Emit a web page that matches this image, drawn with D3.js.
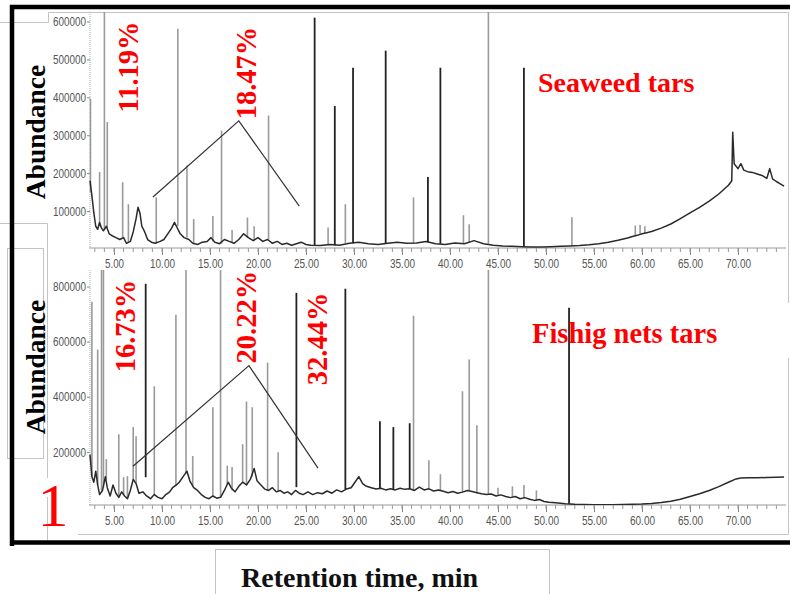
<!DOCTYPE html>
<html>
<head>
<meta charset="utf-8">
<script src="https://cdn.jsdelivr.net/npm/d3@7"></script>
<style>
  body { margin: 0; background: #fff; }
  svg { display: block; }
</style>
</head>
<body>
<svg id="chart" width="790" height="594"></svg>
<script>
// --- data ---
const xMajorTicks = [5, 10, 15, 20, 25, 30, 35, 40, 45, 50, 55, 60, 65, 70];
const xMinorTicks = d3.range(3, 75, 1);

const seaweedYTicks = [100000, 200000, 300000, 400000, 500000, 600000];
const fishYTicks = [200000, 400000, 600000, 800000];

// baseline trace [time, abundance]
const seaweedTrace = [
  [2.5, 180000], [2.7, 140000], [2.9, 95000], [3.1, 60000], [3.3, 52000], [3.5, 70000],
  [3.7, 55000], [3.9, 48000], [4.2, 60000], [4.5, 40000], [4.8, 35000], [5.2, 30000],
  [5.6, 25000], [6.0, 30000], [6.3, 15000], [6.7, 20000], [7.0, 45000], [7.3, 80000],
  [7.5, 110000], [7.7, 95000], [7.9, 60000], [8.2, 45000], [8.5, 25000], [8.9, 18000],
  [9.3, 15000], [9.8, 20000], [10.2, 25000], [10.6, 40000], [11.0, 55000], [11.3, 70000],
  [11.5, 60000], [11.9, 40000], [12.3, 30000], [12.8, 25000], [13.2, 15000], [13.7, 12000],
  [14.2, 18000], [14.7, 20000], [15.1, 30000], [15.5, 18000], [16.0, 14000], [16.5, 25000],
  [17.0, 20000], [17.5, 15000], [18.0, 25000], [18.5, 40000], [19.0, 30000], [19.5, 22000],
  [20.0, 30000], [20.5, 20000], [21.0, 25000], [21.5, 15000], [22.0, 20000], [22.5, 12000],
  [23.0, 15000], [23.5, 10000], [24.0, 14000], [24.5, 18000], [25.0, 12000], [25.5, 10000],
  [26.5, 9000], [27.5, 12000], [28.5, 10000], [29.5, 15000], [30.5, 18000], [31.5, 14000],
  [32.5, 12000], [33.5, 15000], [34.5, 18000], [35.5, 15000], [36.5, 16000], [37.5, 20000],
  [38.5, 14000], [39.5, 12000], [40.5, 16000], [41.5, 14000], [42.5, 22000], [43.5, 14000],
  [44.5, 10000], [45.5, 8000], [46.5, 7000], [47.5, 6000], [48.5, 5000], [49.5, 5000],
  [50.5, 6000], [51.5, 7000], [52.5, 8000], [53.5, 9000], [54.5, 11000], [55.5, 14000],
  [56.5, 18000], [57.5, 23000], [58.5, 29000], [59.0, 33000], [59.5, 36000], [60.0, 40000],
  [60.5, 43000], [61.0, 46000], [62.0, 55000], [63.0, 66000], [64.0, 80000], [65.0, 95000],
  [66.0, 110000], [67.0, 126000], [68.0, 145000], [69.0, 168000], [69.35, 180000],
  [69.45, 308000], [69.6, 225000], [70.0, 212000], [70.3, 225000], [70.6, 208000],
  [71.0, 204000], [71.5, 202000], [72.0, 198000], [72.5, 194000], [73.0, 186000],
  [73.3, 212000], [73.6, 185000], [74.0, 178000], [74.4, 172000], [74.8, 166000]
];

// peaks [time, base, top, kind]  k = marked (black), g = grey
const seaweedPeaks = [
  [2.55, 150000, 396000, 'g'], [3.5, 60000, 203000, 'g'], [4.0, 50000, 700000, 'g'],
  [4.3, 55000, 335000, 'g'], [5.9, 28000, 176000, 'g'], [6.5, 18000, 118000, 'g'],
  [9.4, 15000, 136000, 'g'], [11.65, 60000, 581000, 'g'], [12.6, 30000, 220000, 'g'],
  [13.3, 15000, 79000, 'g'], [15.3, 20000, 87000, 'g'], [16.2, 14000, 312000, 'g'],
  [17.3, 18000, 50000, 'g'], [18.9, 30000, 83000, 'g'], [19.6, 22000, 60000, 'g'],
  [21.1, 25000, 352000, 'g'], [25.9, 10000, 610000, 'k'], [27.3, 10000, 57000, 'g'],
  [28.0, 10000, 377000, 'k'], [29.1, 15000, 118000, 'g'], [29.9, 15000, 478000, 'k'],
  [33.3, 14000, 523000, 'k'], [36.2, 15000, 136000, 'g'], [37.7, 18000, 190000, 'k'],
  [39.0, 14000, 478000, 'k'], [41.4, 14000, 89000, 'g'], [42.0, 18000, 65000, 'g'],
  [44.0, 14000, 700000, 'g'], [47.7, 6000, 478000, 'k'], [52.7, 8000, 84000, 'g'],
  [59.3, 36000, 62000, 'g'], [59.8, 40000, 63000, 'g'], [60.3, 42000, 60000, 'g']
];

const fishTrace = [
  [2.5, 190000], [2.7, 110000], [2.9, 90000], [3.1, 130000], [3.3, 80000], [3.5, 45000],
  [3.8, 60000], [4.1, 110000], [4.3, 70000], [4.6, 40000], [4.9, 80000], [5.2, 50000],
  [5.5, 35000], [5.8, 55000], [6.1, 40000], [6.4, 30000], [6.7, 60000], [7.0, 100000],
  [7.3, 85000], [7.6, 50000], [8.0, 55000], [8.4, 40000], [8.8, 30000], [9.2, 45000],
  [9.6, 35000], [10.0, 30000], [10.4, 45000], [10.8, 55000], [11.1, 70000], [11.5, 80000],
  [11.8, 90000], [12.2, 110000], [12.6, 130000], [12.9, 95000], [13.3, 70000], [13.7, 60000],
  [14.1, 45000], [14.5, 35000], [14.9, 30000], [15.3, 40000], [15.7, 32000], [16.1, 35000],
  [16.5, 60000], [16.9, 90000], [17.2, 70000], [17.6, 55000], [18.0, 75000], [18.4, 90000],
  [18.8, 80000], [19.2, 100000], [19.6, 140000], [19.9, 95000], [20.3, 80000], [20.7, 65000],
  [21.1, 60000], [21.5, 70000], [21.9, 55000], [22.3, 60000], [22.7, 50000], [23.1, 55000],
  [23.5, 45000], [23.9, 60000], [24.3, 50000], [24.7, 45000], [25.2, 55000], [25.7, 45000],
  [26.2, 52000], [26.7, 48000], [27.2, 58000], [27.7, 50000], [28.2, 62000], [28.7, 55000],
  [29.2, 65000], [29.7, 70000], [30.1, 90000], [30.5, 110000], [30.9, 85000], [31.3, 75000],
  [31.8, 70000], [32.3, 65000], [32.8, 68000], [33.3, 62000], [33.8, 66000], [34.3, 62000],
  [34.8, 68000], [35.3, 64000], [35.8, 66000], [36.3, 60000], [36.8, 72000], [37.3, 62000],
  [37.8, 66000], [38.3, 58000], [38.8, 62000], [39.3, 57000], [39.8, 52000], [40.3, 56000],
  [40.8, 50000], [41.3, 54000], [41.8, 60000], [42.3, 56000], [42.8, 52000], [43.3, 48000],
  [43.8, 45000], [44.3, 47000], [44.8, 40000], [45.3, 44000], [45.8, 38000], [46.3, 34000],
  [46.8, 38000], [47.3, 30000], [47.8, 34000], [48.3, 28000], [48.8, 24000], [49.3, 27000],
  [49.8, 20000], [50.3, 17000], [51.0, 15000], [52.0, 12000], [53.0, 10000], [54.0, 9000],
  [55.0, 8000], [56.0, 8000], [57.0, 8000], [58.0, 9000], [59.0, 10000], [60.0, 11000],
  [61.0, 13000], [62.0, 16000], [63.0, 21000], [64.0, 28000], [65.0, 38000], [66.0, 48000],
  [67.0, 60000], [68.0, 74000], [69.0, 90000], [69.8, 102000], [70.3, 105000],
  [71.0, 106000], [72.0, 106000], [73.0, 107000], [74.0, 108000], [74.8, 109000]
];

const fishPeaks = [
  [2.7, 110000, 745000, 'g'], [3.3, 80000, 571000, 'g'], [3.7, 60000, 900000, 'g'],
  [3.9, 70000, 900000, 'g'], [4.2, 100000, 174000, 'g'], [5.5, 35000, 264000, 'g'],
  [6.0, 45000, 108000, 'g'], [6.4, 30000, 112000, 'g'], [7.0, 100000, 290000, 'g'],
  [7.3, 85000, 257000, 'g'], [8.3, 108000, 810000, 'k'], [9.2, 45000, 438000, 'g'],
  [11.45, 75000, 698000, 'g'], [12.5, 120000, 900000, 'g'], [13.2, 75000, 185000, 'g'],
  [15.3, 40000, 362000, 'g'], [16.1, 35000, 900000, 'g'], [16.8, 80000, 150000, 'g'],
  [17.3, 60000, 145000, 'g'], [18.4, 90000, 228000, 'g'], [18.8, 80000, 383000, 'g'],
  [19.4, 110000, 362000, 'g'], [21.0, 60000, 524000, 'g'], [22.1, 55000, 199000, 'g'],
  [24.0, 72000, 777000, 'k'], [29.1, 65000, 792000, 'k'], [32.7, 68000, 311000, 'k'],
  [34.1, 62000, 290000, 'k'], [35.8, 66000, 304000, 'k'], [36.2, 60000, 694000, 'g'],
  [37.8, 66000, 170000, 'g'], [39.0, 60000, 119000, 'g'], [41.3, 54000, 420000, 'g'],
  [42.0, 60000, 535000, 'g'], [42.8, 52000, 297000, 'g'], [44.0, 47000, 900000, 'g'],
  [45.0, 42000, 70000, 'g'], [46.5, 36000, 75000, 'g'], [47.7, 32000, 80000, 'g'],
  [49.0, 25000, 60000, 'g'], [52.4, 12000, 723000, 'k']
];

const seaweedLabels = ['11.19%', '18.47%'];
const fishLabels = ['16.73%', '20.22%', '32.44%'];

// --- drawing ---
const svg = d3.select('#chart');
const serif = '"Liberation Serif", "Times New Roman", serif';
const sans = '"Liberation Sans", Arial, sans-serif';

const x = d3.scaleLinear().domain([0, 75]).range([66, 786]);
const yTop = d3.scaleLinear().domain([0, 625000]).range([249, 12]);
const yBot = d3.scaleLinear().domain([0, 860000]).range([507, 270]);

// grey frame lines of the pasted pictures
const frame = svg.append('g').attr('fill', 'none').attr('stroke', '#c4c4c4').attr('stroke-width', 1);
frame.append('path').attr('d', 'M0,22.5H48.5V12.5H788.5V303');
frame.append('path').attr('d', 'M0,223.5H47.5V478M47.5,497V540');
frame.append('rect').attr('x', 7.5).attr('y', 248.5).attr('width', 36).attr('height', 210);
frame.append('path').attr('d', 'M78,534.5H788.5V358');
frame.append('rect').attr('x', 215.5).attr('y', 549.5).attr('width', 334).attr('height', 60);

function drawPanel(g, y, trace, peaks, yTicks, axisY, clipId) {
  const top = y.range()[1];

  g.append('clipPath').attr('id', clipId)
    .append('rect').attr('x', 89).attr('y', top).attr('width', 700).attr('height', axisY - top);

  // y axis
  const yAxis = g.append('g')
    .attr('transform', 'translate(90,0)')
    .call(d3.axisLeft(y).tickValues(yTicks).tickSize(3).tickFormat(d3.format('d')));
  yAxis.select('.domain').remove();
  yAxis.selectAll('line').attr('stroke', '#888');
  yAxis.selectAll('text')
    .attr('font-family', sans).attr('font-size', 13).attr('fill', '#555')
    .attr('x', -4).attr('textLength', 33).attr('lengthAdjust', 'spacingAndGlyphs');
  g.append('line').attr('x1', 90).attr('x2', 90).attr('y1', top).attr('y2', axisY)
    .attr('stroke', '#aaa').attr('stroke-dasharray', '1,1');

  // x axis
  const xAxis = g.append('g')
    .attr('transform', `translate(0,${axisY})`)
    .call(d3.axisBottom(x).tickValues(xMajorTicks).tickSize(7).tickPadding(4)
      .tickFormat(d3.format('.2f')));
  xAxis.select('.domain').remove();
  xAxis.selectAll('line').attr('stroke', '#888');
  xAxis.selectAll('text')
    .attr('font-family', sans).attr('font-size', 13).attr('fill', '#555')
    .attr('textLength', d => d < 10 ? 19 : 25).attr('lengthAdjust', 'spacingAndGlyphs');
  g.append('g').selectAll('line').data(xMinorTicks).join('line')
    .attr('x1', d => x(d)).attr('x2', d => x(d))
    .attr('y1', axisY).attr('y2', axisY + 4)
    .attr('stroke', '#999');
  g.append('line').attr('x1', 89).attr('x2', 786).attr('y1', axisY).attr('y2', axisY)
    .attr('stroke', '#999').attr('stroke-width', 1.2);

  const plot = g.append('g').attr('clip-path', `url(#${clipId})`);

  // grey peaks
  plot.selectAll('line.gp').data(peaks.filter(p => p[3] === 'g')).join('line')
    .attr('class', 'gp')
    .attr('x1', d => x(d[0])).attr('x2', d => x(d[0]))
    .attr('y1', d => y(d[1])).attr('y2', d => y(d[2]))
    .attr('stroke', '#9a9a9a').attr('stroke-width', 1.6);

  // trace
  plot.append('path').datum(trace)
    .attr('d', d3.line().x(d => x(d[0])).y(d => y(d[1])))
    .attr('fill', 'none').attr('stroke', '#2a2a2a').attr('stroke-width', 1.5)
    .attr('stroke-linejoin', 'round');

  // marked peaks
  plot.selectAll('line.kp').data(peaks.filter(p => p[3] === 'k')).join('line')
    .attr('class', 'kp')
    .attr('x1', d => x(d[0])).attr('x2', d => x(d[0]))
    .attr('y1', d => y(d[1])).attr('y2', d => y(d[2]))
    .attr('stroke', '#222').attr('stroke-width', 1.8);
}

drawPanel(svg.append('g'), yTop, seaweedTrace, seaweedPeaks, seaweedYTicks, 248, 'clipTop');
drawPanel(svg.append('g'), yBot, fishTrace, fishPeaks, fishYTicks, 505, 'clipBot');

// V-shaped pointer lines
const vLine = d3.line().x(d => x(d[0]));
svg.append('path')
  .attr('d', vLine.y(d => yTop(d[1]))([[9.06, 137000], [18.0, 338000], [24.3, 113000]]))
  .attr('fill', 'none').attr('stroke', '#333').attr('stroke-width', 1.2);
svg.append('path')
  .attr('d', vLine.y(d => yBot(d[1]))([[6.98, 148000], [19.06, 513000], [26.25, 141000]]))
  .attr('fill', 'none').attr('stroke', '#333').attr('stroke-width', 1.2);

// rotated red percentages
function percent(label, cx, cy) {
  svg.append('text')
    .attr('transform', `translate(${cx},${cy}) rotate(-90)`)
    .attr('text-anchor', 'middle').attr('dominant-baseline', 'central')
    .attr('font-family', serif).attr('font-weight', 'bold').attr('font-size', 28.5)
    .attr('fill', '#f00').text(label);
}
percent(seaweedLabels[0], x(6.46), yTop(480000));
percent(seaweedLabels[1], x(18.85), yTop(464000));
percent(fishLabels[0], x(6.15), yBot(657000));
percent(fishLabels[1], x(18.85), yBot(689000));
percent(fishLabels[2], x(26.15), yBot(610000));

// sample names
svg.append('text').attr('x', 538).attr('y', 92)
  .attr('font-family', serif).attr('font-weight', 'bold').attr('font-size', 28)
  .attr('fill', '#f00').text('Seaweed tars');
svg.append('text').attr('x', 532).attr('y', 343)
  .attr('font-family', serif).attr('font-weight', 'bold').attr('font-size', 28.5)
  .attr('fill', '#f00').text('Fishig nets tars');

// axis titles
[132, 367].forEach(cy => {
  svg.append('text')
    .attr('transform', `translate(35,${cy}) rotate(-90)`)
    .attr('text-anchor', 'middle').attr('dominant-baseline', 'central')
    .attr('font-family', serif).attr('font-weight', 'bold').attr('font-size', 27.5)
    .attr('fill', '#000').text('Abundance');
});
svg.append('text').attr('x', 241).attr('y', 587)
  .attr('font-family', serif).attr('font-weight', 'bold').attr('font-size', 28)
  .attr('fill', '#111').text('Retention time, min');

svg.append('text').attr('x', 53).attr('y', 526).attr('text-anchor', 'middle')
  .attr('font-family', serif).attr('font-size', 62).attr('fill', '#f00').text('1');

// thick black frame
svg.append('path').attr('d', 'M12,546V7H790M10,542.5H790')
  .attr('fill', 'none').attr('stroke', '#000').attr('stroke-width', 4.5);
</script>
</body>
</html>
